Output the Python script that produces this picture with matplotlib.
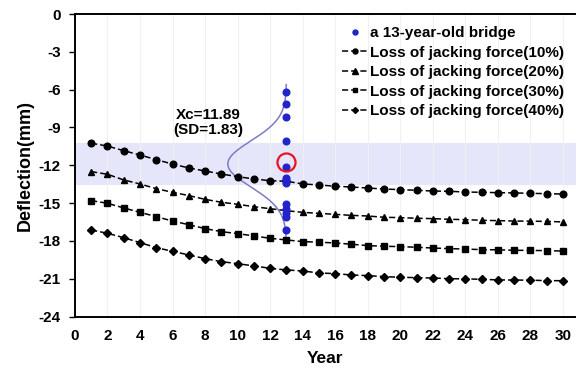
import numpy as np
import matplotlib
matplotlib.use("Agg")
import matplotlib.pyplot as plt

plt.rcParams['font.family'] = ['Liberation Sans', 'DejaVu Sans']
plt.rcParams['font.weight'] = 'bold'
plt.rcParams['axes.unicode_minus'] = False

# Data
years = list(range(1, 31))
loss_10 = [-10.25, -10.47, -10.84, -11.18, -11.55, -11.90, -12.21, -12.45, -12.69, -12.90,
           -13.08, -13.22, -13.26, -13.48, -13.56, -13.66, -13.72, -13.80, -13.88, -13.93,
           -13.98, -14.04, -14.06, -14.12, -14.14, -14.17, -14.19, -14.22, -14.25, -14.28]
loss_20 = [-12.50, -12.71, -13.16, -13.48, -13.85, -14.14, -14.40, -14.70, -14.93, -15.09,
           -15.28, -15.44, -15.60, -15.73, -15.81, -15.89, -15.97, -16.02, -16.12, -16.15,
           -16.20, -16.23, -16.28, -16.31, -16.36, -16.39, -16.42, -16.43, -16.45, -16.49]
loss_30 = [-14.80, -15.01, -15.38, -15.73, -16.07, -16.42, -16.71, -17.02, -17.26, -17.42,
           -17.60, -17.79, -17.92, -18.05, -18.10, -18.16, -18.26, -18.37, -18.42, -18.45,
           -18.50, -18.56, -18.61, -18.64, -18.69, -18.70, -18.74, -18.75, -18.77, -18.80]
loss_40 = [-17.13, -17.39, -17.74, -18.13, -18.53, -18.82, -19.11, -19.40, -19.64, -19.80,
           -19.98, -20.17, -20.30, -20.38, -20.54, -20.59, -20.70, -20.75, -20.83, -20.88,
           -20.91, -20.94, -20.99, -21.01, -21.04, -21.09, -21.10, -21.11, -21.15, -21.15]

bridge_year = 13
bridge_defl = [-6.2, -7.1, -8.2, -10.1, -12.1, -13.0, -13.2, -13.4,
               -15.1, -15.5, -15.8, -16.1, -17.1]

xc = 11.89
sd = 1.83
band = (-13.6, -10.2)
peak_width = 3.6

fig, ax = plt.subplots(figsize=(5.76, 3.69), dpi=100)
fig.subplots_adjust(left=0.130, right=1.0, bottom=0.142, top=0.962)

# shaded band
ax.axhspan(band[0], band[1], color='#e6e6fb', zorder=0, lw=0)

# faint grid
for gx in range(2, 31, 2):
    ax.axvline(gx, color='#f0f0f0', lw=0.8, zorder=0.5)

line_kw = dict(color='black', ls=(0, (4, 2)), lw=1.1, zorder=3)
ax.plot(years, loss_10, marker='o', ms=4.8, label='Loss of jacking force(10%)', **line_kw)
ax.plot(years, loss_20, marker='^', ms=5, label='Loss of jacking force(20%)', **line_kw)
ax.plot(years, loss_30, marker='s', ms=4.8, label='Loss of jacking force(30%)', **line_kw)
ax.plot(years, loss_40, marker='D', ms=4, label='Loss of jacking force(40%)', **line_kw)

# gaussian fit of bridge measurements
yy = np.linspace(-18.0, -5.6, 200)
xx = bridge_year - peak_width * np.exp(-(yy + xc) ** 2 / (2 * sd ** 2))
ax.plot(xx, yy, color='#7b7bc8', lw=1.1, zorder=2)

ax.plot([bridge_year] * len(bridge_defl), bridge_defl, 'o', color='#2323cc',
        ms=4.8, ls='none', label='a 13-year-old bridge', zorder=4)

ax.plot(bridge_year, -11.71, 'o', mfc='none', mec='#e8141e', ms=13, mew=1.6, zorder=5)

ax.text(8.2, -8.6, 'Xc=11.89\n(SD=1.83)', ha='center', va='center',
        fontsize=11, fontweight='bold', linespacing=1.15)

ax.set_xlim(0, 30.8)
ax.set_ylim(-24, 0)
ax.set_xticks(range(0, 31, 2))
ax.set_yticks(range(-24, 1, 3))
ax.tick_params(axis='both', labelsize=11, width=1)
ax.tick_params(axis='x', length=0, pad=9)
ax.tick_params(axis='y', length=4, pad=6)
for s in ax.spines.values():
    s.set_linewidth(1.4)
ax.spines['right'].set_visible(False)

ax.set_xlabel('Year', fontsize=12.5, fontweight='bold', labelpad=6)
ax.set_ylabel('Deflection(mm)', fontsize=13, fontweight='bold', labelpad=4)

handles, labels = ax.get_legend_handles_labels()
order = [4, 0, 1, 2, 3]
ax.legend([handles[i] for i in order], [labels[i] for i in order],
          loc='upper right', frameon=False, fontsize=11, handlelength=1.6,
          handletextpad=0.2, labelspacing=0.36, borderaxespad=0.4,
          markerscale=0.75, bbox_to_anchor=(1.0, 1.0))

fig.savefig('out.png', dpi=100)
